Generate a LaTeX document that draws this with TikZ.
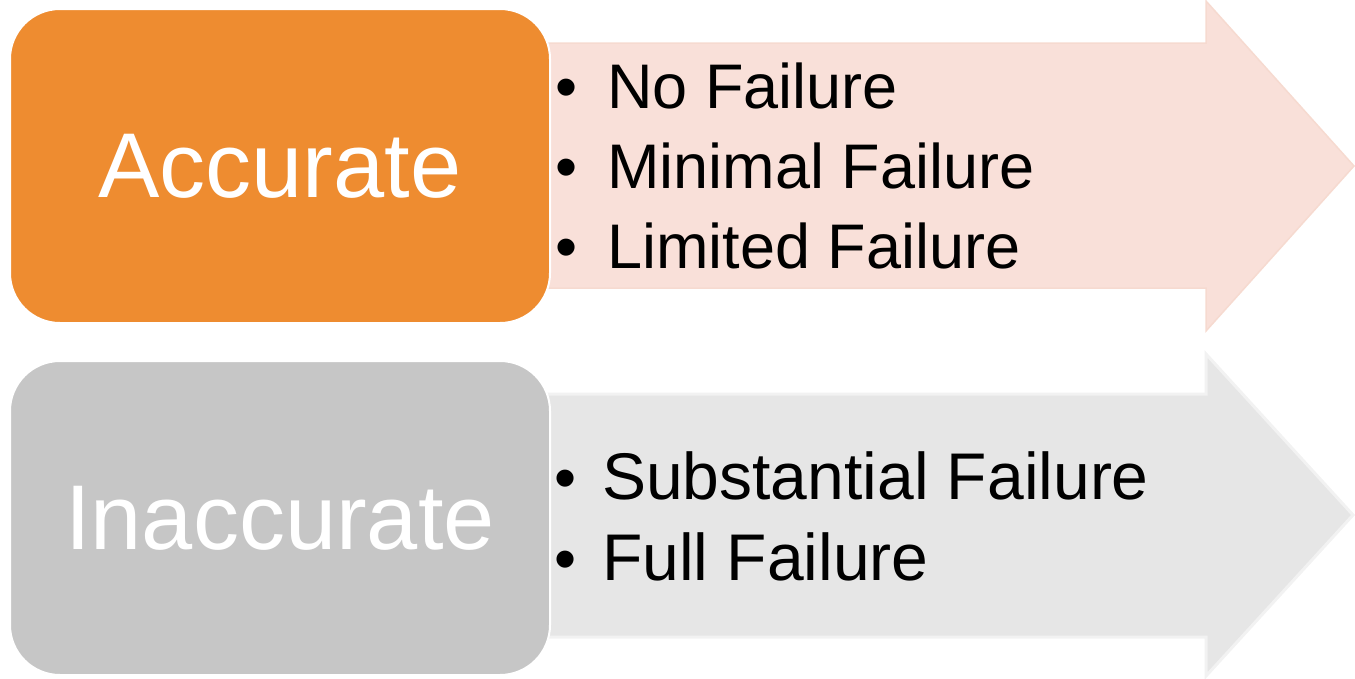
\documentclass[tikz,border=0pt]{standalone}
\usepackage{fontspec}
\setmainfont{Liberation Sans}
\definecolor{accorange}{HTML}{EE8C30}
\definecolor{inaccgray}{HTML}{C6C6C6}
\definecolor{pinkfill}{HTML}{F9E0D9}
\definecolor{pinkline}{HTML}{F6DAD0}
\definecolor{grayfill}{HTML}{E6E6E6}
\definecolor{grayline}{HTML}{F2F2F2}
\tikzset{
  catbox/.style={draw=white, line width=2pt, rounded corners=50pt,
    minimum width=540pt, minimum height=314pt, inner sep=0pt,
    text=white, font=\fontsize{92}{92}\selectfont},
  item/.style={anchor=base west, inner sep=0pt, font=\fontsize{63}{63}\selectfont},
  dot/.style={anchor=base, inner sep=0pt, font=\fontsize{63}{63}\selectfont}
}
\begin{document}
\begin{tikzpicture}[x=1pt,y=-1pt]
    \useasboundingbox (0,0) rectangle (1355,678);
    %%% arrows
    \draw[pinkline, fill=pinkfill, line width=1.5pt]
      (540,43) -- (1206,43) -- (1206,1) -- (1354,166) -- (1206,331) -- (1206,288) -- (540,288) -- cycle;
    \draw[grayline, fill=grayfill, line width=3pt]
      (540,394) -- (1206,394) -- (1206,354) -- (1353,515) -- (1206,676) -- (1206,637) -- (540,637) -- cycle;
    %%% boxes
    \node[catbox, fill=accorange] (acc) at (280,166) {Accurate};
    \node[catbox, fill=inaccgray] (inacc) at (280,518) {Inaccurate};
    %%% lists
    \foreach \y/\txt in {108/No Failure, 188/Minimal Failure, 268/Limited Failure}
    {
      \node[dot] (accdot\y) at (567,\y) {•};
      \node[item] (accitem\y) at (607,\y) {\txt};
    }
    \foreach \y/\txt in {499/Substantial Failure, 580/Full Failure}
    {
      \node[dot] (inaccdot\y) at (566,\y) {•};
      \node[item, font=\fontsize{66}{66}\selectfont] (inaccitem\y) at (602,\y) {\txt};
    }
  \end{tikzpicture}
\end{document}
